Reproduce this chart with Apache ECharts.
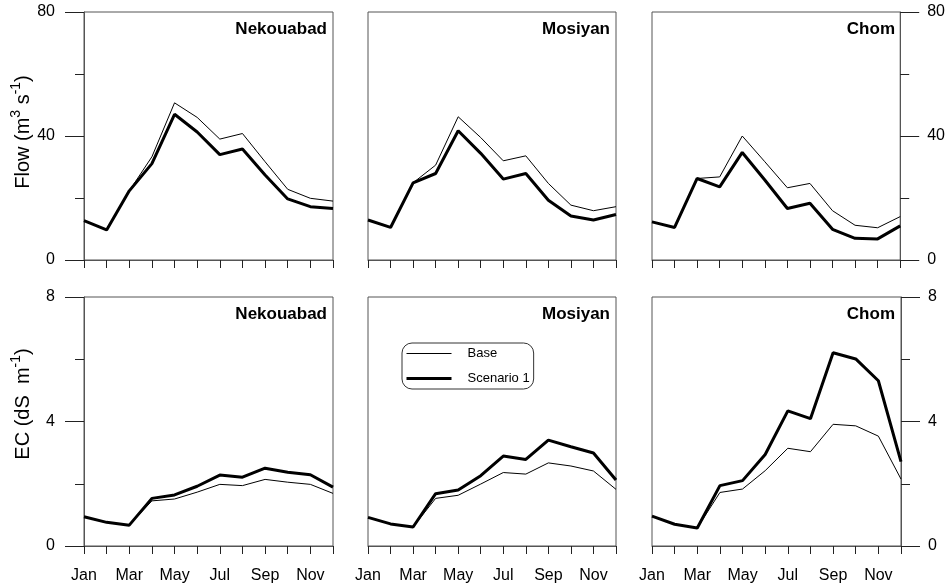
<!DOCTYPE html>
<html>
<head>
<meta charset="utf-8">
<script src="https://cdn.jsdelivr.net/npm/echarts@6/dist/echarts.min.js"></script>
<style>html,body{margin:0;padding:0;background:#fff;}#c{width:948px;height:586px;}</style>
</head>
<body>
<div id="c"></div>
<script>
const months = ['Jan','Feb','Mar','Apr','May','Jun','Jul','Aug','Sep','Oct','Nov','Dec'];
const stations = ['Nekouabad','Mosiyan','Chom'];
const seriesNames = ['Base','Scenario 1'];

// Flow (m3 s-1)
const flowNekouabadBase = [12.7, 9.7, 22.3, 33.3, 50.7, 46.0, 39.0, 40.8, 31.7, 22.8, 19.9, 19.0];
const flowNekouabadScen = [12.7, 9.7, 22.3, 31.1, 47.0, 41.3, 34.0, 35.8, 27.4, 19.7, 17.2, 16.6];
const flowMosiyanBase   = [12.9, 10.5, 24.9, 30.6, 46.2, 39.5, 32.0, 33.6, 24.7, 17.7, 15.9, 17.2];
const flowMosiyanScen   = [12.9, 10.5, 24.9, 27.9, 41.7, 34.4, 26.1, 27.9, 19.3, 14.2, 12.9, 14.7];
const flowChomBase      = [12.3, 10.5, 26.3, 26.8, 40.0, 31.7, 23.3, 24.7, 15.9, 11.2, 10.4, 14.0];
const flowChomScen      = [12.3, 10.5, 26.3, 23.6, 34.7, 25.8, 16.6, 18.3, 9.9, 7.0, 6.8, 11.0];

// EC (dS m-1)
const ecNekouabadBase = [0.94, 0.76, 0.67, 1.45, 1.51, 1.73, 1.98, 1.94, 2.14, 2.05, 1.98, 1.69];
const ecNekouabadScen = [0.94, 0.76, 0.67, 1.53, 1.64, 1.92, 2.28, 2.21, 2.50, 2.37, 2.29, 1.89];
const ecMosiyanBase   = [0.92, 0.71, 0.61, 1.53, 1.63, 1.99, 2.36, 2.31, 2.67, 2.57, 2.41, 1.82];
const ecMosiyanScen   = [0.92, 0.71, 0.61, 1.68, 1.80, 2.26, 2.89, 2.78, 3.40, 3.19, 2.99, 2.12];
const ecChomBase      = [0.96, 0.70, 0.58, 1.72, 1.83, 2.42, 3.14, 3.03, 3.91, 3.86, 3.53, 2.15];
const ecChomScen      = [0.96, 0.70, 0.58, 1.94, 2.10, 2.94, 4.34, 4.09, 6.21, 6.01, 5.31, 2.71];

const flowTicks = {min: 0, max: 80, interval: 40};
const ecTicks = {min: 0, max: 8, interval: 4};

const FONT = "'Liberation Sans', Arial, Helvetica, sans-serif";
const FRAME = '#555';

const panels = [
  {base: flowNekouabadBase, scen: flowNekouabadScen, row: 0, col: 0},
  {base: flowMosiyanBase,   scen: flowMosiyanScen,   row: 0, col: 1},
  {base: flowChomBase,      scen: flowChomScen,      row: 0, col: 2},
  {base: ecNekouabadBase,   scen: ecNekouabadScen,   row: 1, col: 0},
  {base: ecMosiyanBase,     scen: ecMosiyanScen,     row: 1, col: 1},
  {base: ecChomBase,        scen: ecChomScen,        row: 1, col: 2}
];

const colLeft = [84, 368, 652];
const colWidth = [249, 248, 249];
const rowTop = [12, 297];
const rowHeight = [248, 249];

const grids = [], xAxes = [], yAxes = [], series = [], graphics = [];

panels.forEach((p, i) => {
  grids.push({
    left: colLeft[p.col], top: rowTop[p.row], width: colWidth[p.col], height: rowHeight[p.row],
    show: true, borderColor: FRAME, borderWidth: 1, backgroundColor: 'transparent', containLabel: false
  });
  xAxes.push({
    type: 'category', gridIndex: i, data: months, boundaryGap: false,
    axisLine: {show: true, lineStyle: {color: FRAME, width: 1}},
    axisTick: {show: true, interval: 0, length: 8, lineStyle: {color: '#222', width: 1}},
    axisLabel: {show: p.row === 1, interval: 1, margin: 22, fontSize: 16, color: '#000', fontFamily: FONT},
    splitLine: {show: false}
  });
  const t = p.row === 0 ? flowTicks : ecTicks;
  const showY = p.col !== 1;
  yAxes.push({
    type: 'value', gridIndex: i, min: t.min, max: t.max, interval: t.interval,
    position: p.col === 2 ? 'right' : 'left',
    axisLine: {show: showY, lineStyle: {color: FRAME, width: 1}},
    axisTick: {show: showY, length: 19, lineStyle: {color: '#222', width: 1}},
    minorTick: {show: showY, splitNumber: 2, length: 9, lineStyle: {color: '#222', width: 1}},
    axisLabel: {show: showY, margin: p.col === 2 ? 27 : 29, fontSize: 16, color: '#000', fontFamily: FONT},
    splitLine: {show: false}, minorSplitLine: {show: false}
  });
  series.push({
    type: 'line', name: seriesNames[0], xAxisIndex: i, yAxisIndex: i, data: p.base,
    symbol: 'none', lineStyle: {color: '#000', width: 1}, itemStyle: {color: '#000'}, z: 3
  });
  series.push({
    type: 'line', name: seriesNames[1], xAxisIndex: i, yAxisIndex: i, data: p.scen,
    symbol: 'none', lineStyle: {color: '#000', width: 3}, itemStyle: {color: '#000'}, z: 4
  });
  graphics.push({
    type: 'text',
    x: colLeft[p.col] + colWidth[p.col] - 6,
    y: rowTop[p.row] + 17,
    style: {
      text: stations[p.col], font: 'bold 17px ' + FONT, fill: '#000',
      align: 'right', verticalAlign: 'middle', textAlign: 'right', textVerticalAlign: 'middle'
    },
    z: 10
  });
});

const rich = {
  n: {fontSize: 20, fontFamily: FONT, color: '#000', lineHeight: 28},
  s: {fontSize: 14, fontFamily: FONT, color: '#000', lineHeight: 15, verticalAlign: 'top'}
};
graphics.push({
  type: 'text', x: 23, y: 132, rotation: Math.PI / 2,
  style: {text: '{n|Flow (m}{s|3}{n| s}{s|-1}{n|)}', rich: rich,
    align: 'center', verticalAlign: 'middle', textAlign: 'center', textVerticalAlign: 'middle'},
  z: 10
});
graphics.push({
  type: 'text', x: 23, y: 404, rotation: Math.PI / 2,
  style: {text: '{n|EC (dS  m}{s|-1}{n|)}', rich: rich,
    align: 'center', verticalAlign: 'middle', textAlign: 'center', textVerticalAlign: 'middle'},
  z: 10
});

const hiddenSymbol = {color: 'rgba(0,0,0,0)', borderWidth: 0, opacity: 0};
const chart = echarts.init(document.getElementById('c'), null, {renderer: 'canvas'});
chart.setOption({
  animation: false,
  backgroundColor: '#fff',
  textStyle: {fontFamily: FONT},
  grid: grids,
  xAxis: xAxes,
  yAxis: yAxes,
  series: series,
  legend: {
    data: [
      {name: seriesNames[0], lineStyle: {width: 1, color: '#000'}, itemStyle: hiddenSymbol},
      {name: seriesNames[1], lineStyle: {width: 3, color: '#000'}, itemStyle: hiddenSymbol}
    ],
    orient: 'vertical', left: 402, top: 343,
    itemWidth: 45, itemHeight: 14, itemGap: 12, padding: [4, 4, 4, 3],
    borderColor: '#333', borderWidth: 1, borderRadius: 10, backgroundColor: '#fff',
    selectedMode: false,
    itemStyle: hiddenSymbol,
    textStyle: {fontSize: 13, color: '#000', fontFamily: FONT, padding: [0, 0, 0, 11]}
  },
  graphic: graphics
});
</script>
</body>
</html>
